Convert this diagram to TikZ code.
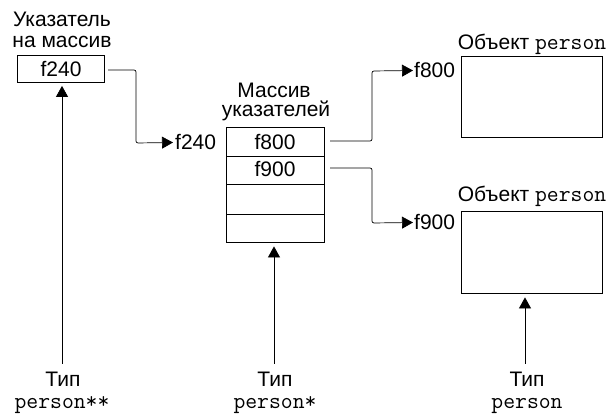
\documentclass[tikz,border=0pt]{standalone}
\usepackage{fontspec}
\setmainfont{Liberation Sans}
\usetikzlibrary{arrows.meta}
\newcommand{\mtt}[1]{{\fontsize{23}{25}\selectfont\ttfamily #1}}
\begin{document}
\begin{tikzpicture}[x=1pt,y=-1pt,
  every node/.style={font=\fontsize{21}{24}\selectfont},
  txt/.style={inner sep=0pt,anchor=base},
  cell/.style={draw,line width=0.8pt,minimum width=98pt,inner sep=0pt},
  obj/.style={draw,line width=0.8pt,minimum width=141pt,inner sep=0pt},
  conn/.style={line width=0.7pt,rounded corners=2pt,-{Triangle[length=11pt,width=12pt]}}]
\useasboundingbox (0,0) rectangle (614,414);
% pointer to array
\node[txt] (lab1a) at (62,27) {Указатель};
\node[txt] (lab1b) at (62,48) {на массив};
\node[draw,line width=0.8pt,minimum width=87pt,minimum height=27pt,inner sep=0pt] (p) at (61,69) {};
\node[txt] (p240) at (61,77) {f240};
% array
\node[txt] (lab2a) at (274,98) {Массив};
\node[txt] (lab2b) at (276,117) {указателей};
\node[cell,minimum height=29pt] (c1) at (275,141.5) {};
\node[cell,minimum height=28pt] (c2) at (275,170) {};
\node[cell,minimum height=30pt] (c3) at (275,199) {};
\node[cell,minimum height=28pt] (c4) at (275,228) {};
\node[txt] (v800) at (275,150) {f800};
\node[txt] (v900) at (275,177) {f900};
\node[txt,anchor=base west] (a240) at (175,150) {f240};
% objects
\node[txt] (lab3) at (532,50) {Объект \mtt{person}};
\node[obj,minimum height=81pt] (o1) at (531.5,97) {};
\node[txt,anchor=base west] (a800) at (414,78) {f800};
\node[txt] (lab4) at (532,202) {Объект \mtt{person}};
\node[obj,minimum height=82pt] (o2) at (531.5,252) {};
\node[txt,anchor=base west] (a900) at (414,230) {f900};
% connectors
\coordinate (s1) at (108,70);
\draw[conn] (s1) -- (136,70) -- (136,143) -- ([xshift=-2pt]a240.west);
\coordinate (s2) at (330,141);
\draw[conn] (s2) -- (372,141) -- (372,71) -- ([xshift=-1pt]a800.west);
\coordinate (s3) at (330,168);
\draw[conn] (s3) -- (372,168) -- (372,223) -- ([xshift=-1pt]a900.west);
% types
\node[txt] (t1) at (63,387) {Тип};
\node[txt] (t1b) at (62,409) {\mtt{person**}};
\node[txt] (t2) at (275,387) {Тип};
\node[txt] (t2b) at (275,409) {\mtt{person*}};
\node[txt] (t3) at (527,387) {Тип};
\node[txt] (t3b) at (527,409) {\mtt{person}};
\coordinate (b1) at (62,364);
\coordinate (b2) at (274,364);
\coordinate (b3) at (525,364);
\draw[conn] (b1) -- ([yshift=-3pt]p.south -| b1);
\draw[conn] (b2) -- ([yshift=-4pt]c4.south -| b2);
\draw[conn] (b3) -- ([yshift=-4pt]o2.south -| b3);
\end{tikzpicture}
\end{document}
